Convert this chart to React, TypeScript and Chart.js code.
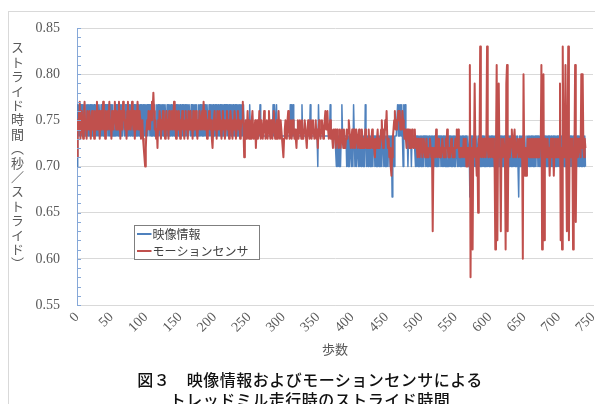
import React, { useEffect, useRef } from "react";
import { Chart, registerables } from "chart.js";

Chart.register(...registerables);

const seriesNames = ["映像情報", "モーションセンサ"];
const xTickValues = [0, 50, 100, 150, 200, 250, 300, 350, 400, 450, 500, 550, 600, 650, 700, 750];
const yTickValues = [0.55, 0.6, 0.65, 0.7, 0.75, 0.8, 0.85];
const yTitle = "ストライド時間（秒／ストライド）";
const xTitle = "歩数";
const captionLines = ["図３　映像情報およびモーションセンサによる", "トレッドミル走行時のストライド時間"];

// 映像情報 (steps 0-259)
const videoPart1 = [
  0.7,0.767,0.733,0.767,0.733,0.767,0.767,0.733,0.767,0.733,0.767,0.733,0.733,0.767,0.733,0.767,0.733,0.767,0.733,0.767,
  0.733,0.767,0.733,0.767,0.733,0.767,0.733,0.733,0.767,0.733,0.767,0.733,0.767,0.767,0.733,0.767,0.733,0.767,0.733,0.767,
  0.733,0.767,0.733,0.767,0.767,0.733,0.767,0.733,0.767,0.733,0.767,0.733,0.767,0.733,0.733,0.767,0.733,0.767,0.733,0.767,
  0.733,0.767,0.733,0.767,0.733,0.767,0.733,0.767,0.767,0.733,0.767,0.733,0.767,0.733,0.767,0.733,0.767,0.733,0.733,0.767,
  0.733,0.767,0.733,0.767,0.733,0.767,0.733,0.767,0.733,0.767,0.733,0.733,0.767,0.733,0.767,0.733,0.767,0.733,0.767,0.733,
  0.767,0.733,0.767,0.733,0.767,0.767,0.733,0.767,0.733,0.767,0.733,0.767,0.733,0.767,0.733,0.733,0.767,0.733,0.767,0.733,
  0.767,0.733,0.767,0.733,0.767,0.733,0.767,0.733,0.767,0.767,0.733,0.767,0.733,0.767,0.733,0.767,0.733,0.767,0.733,0.733,
  0.767,0.733,0.767,0.733,0.767,0.733,0.767,0.733,0.767,0.733,0.767,0.733,0.733,0.767,0.733,0.767,0.733,0.767,0.733,0.767,
  0.733,0.767,0.733,0.767,0.767,0.733,0.767,0.733,0.767,0.733,0.767,0.733,0.767,0.733,0.767,0.733,0.733,0.767,0.733,0.767,
  0.733,0.767,0.733,0.767,0.733,0.767,0.733,0.767,0.733,0.767,0.767,0.733,0.767,0.733,0.767,0.733,0.767,0.733,0.767,0.733,
  0.733,0.767,0.733,0.767,0.733,0.767,0.733,0.733,0.767,0.733,0.767,0.733,0.767,0.733,0.767,0.733,0.767,0.767,0.733,0.767,
  0.733,0.767,0.733,0.767,0.733,0.767,0.733,0.767,0.733,0.733,0.767,0.733,0.767,0.733,0.767,0.733,0.767,0.733,0.767,0.733,
  0.767,0.733,0.767,0.733,0.733,0.733,0.733,0.733,0.733,0.733,0.733,0.767,0.733,0.733,0.733,0.733,0.733,0.733,0.733,0.733,
];
// 映像情報 (steps 260-499)
const videoPart2 = [
  0.733,0.733,0.733,0.733,0.733,0.733,0.767,0.733,0.733,0.733,0.733,0.733,0.733,0.733,0.733,0.733,0.733,0.733,0.733,0.733,
  0.733,0.733,0.733,0.733,0.733,0.767,0.733,0.767,0.733,0.733,0.767,0.733,0.733,0.733,0.733,0.733,0.733,0.733,0.733,0.733,
  0.733,0.733,0.733,0.733,0.733,0.733,0.733,0.733,0.733,0.733,0.767,0.733,0.767,0.733,0.767,0.733,0.733,0.733,0.733,0.733,
  0.733,0.733,0.733,0.733,0.733,0.733,0.733,0.767,0.733,0.733,0.733,0.733,0.733,0.733,0.733,0.733,0.733,0.733,0.733,0.767,
  0.733,0.733,0.733,0.733,0.733,0.733,0.733,0.733,0.733,0.733,0.7,0.767,0.733,0.733,0.733,0.733,0.733,0.733,0.733,0.733,
  0.733,0.733,0.733,0.733,0.733,0.733,0.733,0.733,0.767,0.733,0.733,0.733,0.733,0.733,0.733,0.733,0.733,0.7,0.733,0.7,
  0.733,0.7,0.733,0.7,0.733,0.767,0.733,0.733,0.733,0.733,0.733,0.733,0.7,0.733,0.7,0.733,0.7,0.733,0.733,0.7,
  0.733,0.7,0.767,0.733,0.7,0.733,0.7,0.733,0.733,0.7,0.733,0.7,0.733,0.7,0.733,0.733,0.7,0.733,0.7,0.767,
  0.733,0.7,0.733,0.7,0.733,0.733,0.7,0.733,0.7,0.733,0.7,0.733,0.733,0.7,0.733,0.7,0.733,0.7,0.733,0.7,
  0.733,0.7,0.733,0.7,0.733,0.733,0.7,0.733,0.7,0.733,0.7,0.733,0.7,0.733,0.733,0.7,0.733,0.733,0.667,0.733,
  0.733,0.7,0.733,0.733,0.733,0.733,0.767,0.733,0.767,0.733,0.767,0.733,0.767,0.733,0.7,0.767,0.733,0.767,0.733,0.733,
  0.733,0.7,0.733,0.733,0.733,0.733,0.7,0.733,0.733,0.733,0.733,0.733,0.7,0.733,0.7,0.733,0.7,0.733,0.7,0.733,
];
// 映像情報 (steps 500-739)
const videoPart3 = [
  0.7,0.733,0.7,0.733,0.7,0.733,0.733,0.7,0.733,0.7,0.733,0.7,0.733,0.7,0.7,0.733,0.7,0.733,0.7,0.733,
  0.7,0.733,0.7,0.733,0.7,0.733,0.7,0.733,0.733,0.7,0.733,0.7,0.733,0.7,0.733,0.7,0.733,0.7,0.7,0.733,
  0.7,0.733,0.7,0.733,0.7,0.733,0.7,0.733,0.7,0.733,0.7,0.733,0.733,0.7,0.733,0.7,0.733,0.7,0.733,0.7,
  0.733,0.7,0.733,0.7,0.733,0.7,0.733,0.733,0.733,0.7,0.733,0.667,0.7,0.733,0.667,0.733,0.7,0.733,0.733,0.7,
  0.733,0.733,0.7,0.733,0.7,0.733,0.7,0.733,0.7,0.733,0.7,0.733,0.7,0.733,0.7,0.7,0.733,0.7,0.733,0.7,
  0.733,0.7,0.733,0.7,0.733,0.7,0.733,0.7,0.733,0.7,0.733,0.733,0.7,0.733,0.7,0.733,0.7,0.733,0.7,0.733,
  0.7,0.733,0.7,0.733,0.7,0.733,0.7,0.733,0.7,0.733,0.733,0.7,0.733,0.7,0.733,0.7,0.733,0.7,0.733,0.7,
  0.733,0.7,0.667,0.733,0.7,0.733,0.7,0.733,0.7,0.733,0.7,0.733,0.7,0.7,0.733,0.7,0.733,0.7,0.733,0.7,
  0.733,0.7,0.733,0.7,0.733,0.7,0.733,0.7,0.733,0.733,0.7,0.733,0.7,0.733,0.7,0.733,0.7,0.733,0.7,0.733,
  0.7,0.733,0.7,0.733,0.7,0.733,0.7,0.733,0.7,0.733,0.7,0.7,0.733,0.7,0.733,0.7,0.733,0.7,0.733,0.7,
  0.733,0.7,0.733,0.7,0.733,0.7,0.733,0.733,0.7,0.733,0.7,0.733,0.7,0.733,0.7,0.733,0.7,0.733,0.7,0.733,
  0.7,0.733,0.7,0.733,0.7,0.733,0.7,0.733,0.7,0.733,0.7,0.733,0.733,0.7,0.733,0.7,0.733,0.7,0.733,0.7,
];

// モーションセンサ (steps 0-259)
const sensorPart1 = [
  0.71,0.75,0.74,0.76,0.77,0.73,0.75,0.76,0.74,0.73,0.75,0.77,0.74,0.75,0.73,0.76,0.75,0.74,0.76,0.75,
  0.73,0.75,0.76,0.74,0.75,0.73,0.76,0.75,0.74,0.77,0.75,0.74,0.76,0.73,0.75,0.76,0.74,0.75,0.77,0.74,
  0.75,0.73,0.76,0.75,0.74,0.76,0.75,0.77,0.74,0.75,0.73,0.76,0.75,0.74,0.76,0.77,0.75,0.74,0.76,0.75,
  0.74,0.77,0.75,0.73,0.76,0.75,0.74,0.77,0.75,0.76,0.74,0.75,0.73,0.76,0.77,0.74,0.75,0.76,0.74,0.75,
  0.77,0.75,0.74,0.76,0.73,0.75,0.76,0.74,0.77,0.75,0.74,0.76,0.75,0.73,0.74,0.75,0.73,0.72,0.71,0.70,
  0.72,0.74,0.75,0.74,0.76,0.75,0.74,0.76,0.75,0.77,0.76,0.78,0.76,0.74,0.75,0.73,0.74,0.72,0.75,0.74,
  0.76,0.75,0.73,0.75,0.74,0.76,0.75,0.74,0.73,0.75,0.76,0.74,0.75,0.73,0.76,0.75,0.74,0.75,0.76,0.74,
  0.75,0.77,0.74,0.75,0.73,0.76,0.75,0.74,0.76,0.75,0.73,0.75,0.74,0.76,0.75,0.74,0.73,0.75,0.76,0.74,
  0.75,0.73,0.76,0.74,0.75,0.76,0.74,0.75,0.73,0.76,0.75,0.74,0.75,0.76,0.74,0.73,0.75,0.74,0.76,0.75,
  0.74,0.75,0.76,0.74,0.77,0.75,0.74,0.76,0.75,0.73,0.75,0.74,0.76,0.75,0.74,0.75,0.73,0.72,0.74,0.75,
  0.76,0.74,0.75,0.73,0.76,0.75,0.74,0.76,0.75,0.74,0.73,0.75,0.76,0.74,0.75,0.73,0.74,0.75,0.76,0.74,
  0.75,0.73,0.74,0.76,0.75,0.74,0.73,0.75,0.74,0.76,0.75,0.73,0.74,0.75,0.76,0.74,0.75,0.73,0.74,0.75,
  0.75,0.77,0.74,0.71,0.74,0.75,0.73,0.74,0.76,0.74,0.73,0.75,0.74,0.73,0.75,0.76,0.74,0.73,0.74,0.75,
];
// モーションセンサ (steps 260-499)
const sensorPart2 = [
  0.72,0.74,0.75,0.73,0.74,0.76,0.74,0.73,0.75,0.74,0.73,0.74,0.76,0.75,0.73,0.74,0.75,0.73,0.74,0.76,
  0.74,0.73,0.75,0.74,0.73,0.75,0.76,0.74,0.73,0.74,0.75,0.73,0.74,0.76,0.74,0.73,0.75,0.74,0.73,0.72,
  0.71,0.73,0.74,0.75,0.74,0.73,0.75,0.76,0.74,0.73,0.74,0.75,0.73,0.74,0.75,0.74,0.73,0.74,0.73,0.72,
  0.74,0.75,0.73,0.74,0.75,0.74,0.73,0.75,0.74,0.73,0.74,0.75,0.74,0.73,0.72,0.74,0.75,0.74,0.73,0.74,
  0.75,0.73,0.74,0.75,0.74,0.73,0.74,0.75,0.73,0.74,0.72,0.74,0.75,0.74,0.73,0.74,0.75,0.74,0.73,0.74,
  0.75,0.76,0.74,0.75,0.76,0.74,0.73,0.74,0.75,0.73,0.74,0.73,0.72,0.74,0.73,0.74,0.72,0.73,0.74,0.73,
  0.72,0.73,0.74,0.72,0.73,0.74,0.73,0.72,0.74,0.73,0.72,0.73,0.74,0.73,0.74,0.75,0.74,0.73,0.72,0.73,
  0.74,0.72,0.73,0.74,0.72,0.73,0.74,0.73,0.72,0.73,0.74,0.72,0.73,0.72,0.74,0.73,0.72,0.73,0.72,0.74,
  0.73,0.72,0.73,0.72,0.74,0.72,0.73,0.72,0.73,0.74,0.72,0.73,0.72,0.71,0.73,0.72,0.73,0.74,0.72,0.73,
  0.72,0.73,0.74,0.75,0.73,0.72,0.74,0.73,0.75,0.74,0.76,0.73,0.72,0.73,0.71,0.72,0.70,0.69,0.71,0.73,
  0.74,0.75,0.76,0.74,0.75,0.74,0.75,0.76,0.75,0.76,0.74,0.75,0.74,0.76,0.75,0.74,0.73,0.74,0.73,0.72,
  0.74,0.73,0.74,0.72,0.74,0.73,0.72,0.74,0.73,0.72,0.73,0.74,0.72,0.73,0.72,0.71,0.73,0.72,0.71,0.72,
];
// モーションセンサ (steps 500-739)
const sensorPart3 = [
  0.73,0.72,0.71,0.72,0.73,0.72,0.71,0.72,0.73,0.71,0.72,0.71,0.72,0.73,0.72,0.71,0.72,0.63,0.71,0.72,
  0.72,0.71,0.74,0.72,0.71,0.72,0.73,0.71,0.72,0.71,0.72,0.73,0.72,0.71,0.72,0.71,0.73,0.72,0.74,0.72,
  0.71,0.72,0.71,0.72,0.73,0.72,0.71,0.72,0.71,0.72,0.73,0.72,0.74,0.73,0.74,0.72,0.71,0.72,0.71,0.72,
  0.72,0.71,0.73,0.72,0.71,0.73,0.70,0.72,0.70,0.72,0.71,0.81,0.58,0.72,0.70,0.61,0.73,0.71,0.79,0.72,
  0.71,0.69,0.72,0.65,0.73,0.71,0.83,0.72,0.71,0.73,0.72,0.71,0.73,0.72,0.71,0.73,0.83,0.72,0.71,0.73,
  0.72,0.71,0.73,0.72,0.71,0.73,0.72,0.70,0.61,0.72,0.81,0.62,0.73,0.79,0.71,0.72,0.63,0.73,0.72,0.71,
  0.73,0.72,0.71,0.61,0.79,0.81,0.63,0.72,0.73,0.71,0.72,0.73,0.74,0.72,0.71,0.73,0.74,0.72,0.71,0.72,
  0.73,0.72,0.71,0.73,0.72,0.71,0.73,0.72,0.60,0.80,0.71,0.69,0.72,0.69,0.71,0.73,0.72,0.71,0.73,0.72,
  0.71,0.73,0.72,0.71,0.73,0.72,0.71,0.73,0.72,0.71,0.73,0.72,0.71,0.73,0.72,0.81,0.61,0.72,0.80,0.62,
  0.72,0.73,0.71,0.72,0.73,0.71,0.72,0.69,0.72,0.73,0.71,0.72,0.73,0.69,0.72,0.71,0.73,0.72,0.71,0.73,
  0.72,0.71,0.79,0.62,0.72,0.61,0.83,0.72,0.71,0.73,0.81,0.72,0.63,0.72,0.83,0.62,0.72,0.73,0.71,0.72,
  0.73,0.61,0.72,0.71,0.81,0.64,0.72,0.73,0.71,0.72,0.73,0.72,0.71,0.80,0.72,0.80,0.72,0.71,0.73,0.72,
];

const BLUE = "#4f81bd";
const RED = "#c0504d";
const AXIS_BLUE = "#86a8d8";
const GRID = "#d9d9d9";
const TEXT_GRAY = "#595959";
const JP_FONT = "'Noto Sans CJK JP', 'Noto Sans', sans-serif";
const NUM_FONT = "'Liberation Serif', serif";

const videoValues = [...videoPart1, ...videoPart2, ...videoPart3];
const sensorValues = [...sensorPart1, ...sensorPart2, ...sensorPart3];

const decorPlugin = {
  id: "decor",
  afterDraw(chart: any) {
    const { ctx, chartArea, scales } = chart;
    const y = scales.y;
    ctx.save();
    // minor ticks every 0.01
    ctx.strokeStyle = AXIS_BLUE;
    ctx.lineWidth = 1;
    for (let k = 55; k <= 85; k++) {
      const py = Math.round(y.getPixelForValue(k / 100)) + 0.5;
      ctx.beginPath();
      ctx.moveTo(chartArea.left, py);
      ctx.lineTo(chartArea.left + 4, py);
      ctx.stroke();
    }
    // legend box
    const bx = 126.5, by = 214.5, bw = 125, bh = 34;
    ctx.fillStyle = "#ffffff";
    ctx.fillRect(bx, by, bw, bh);
    ctx.strokeStyle = "#7f7f7f";
    ctx.lineWidth = 1;
    ctx.strokeRect(bx, by, bw, bh);
    const entries = [
      { name: seriesNames[0], color: BLUE, y: 223 },
      { name: seriesNames[1], color: RED, y: 240 },
    ];
    ctx.font = `12px ${JP_FONT}`;
    ctx.textBaseline = "middle";
    ctx.textAlign = "left";
    for (const e of entries) {
      ctx.strokeStyle = e.color;
      ctx.lineWidth = 2;
      ctx.beginPath();
      ctx.moveTo(bx + 2.5, e.y);
      ctx.lineTo(bx + 17, e.y);
      ctx.stroke();
      ctx.fillStyle = "#404040";
      ctx.fillText(e.name, bx + 18, e.y + 0.5);
    }
    ctx.restore();
  },
};

export default function App() {
  const canvasRef = useRef<HTMLCanvasElement | null>(null);

  useEffect(() => {
    if (!canvasRef.current) return;
    const chart = new Chart(canvasRef.current, {
      type: "line",
      data: {
        datasets: [
          {
            label: seriesNames[1],
            data: sensorValues.map((v, i) => ({ x: i, y: v })),
            borderColor: RED,
            backgroundColor: RED,
            borderWidth: 2,
            pointRadius: 0,
            tension: 0,
            borderJoinStyle: "round",
            order: 1,
          },
          {
            label: seriesNames[0],
            data: videoValues.map((v, i) => ({ x: i, y: v })),
            borderColor: BLUE,
            backgroundColor: BLUE,
            borderWidth: 1.5,
            pointRadius: 0,
            tension: 0,
            borderJoinStyle: "round",
            order: 2,
          },
        ],
      },
      options: {
        animation: false,
        responsive: false,
        events: [],
        layout: { padding: { top: 17, right: 10, left: 0, bottom: 0 } },
        plugins: { legend: { display: false }, tooltip: { enabled: false }, title: { display: false } },
        scales: {
          x: {
            type: "linear",
            min: xTickValues[0],
            max: xTickValues[xTickValues.length - 1],
            afterBuildTicks: (s: any) => {
              s.ticks = xTickValues.map((v) => ({ value: v }));
            },
            afterFit: (s: any) => {
              s.height = 36;
              s.paddingLeft = 0;
              s.paddingRight = 0;
            },
            grid: { display: false, drawTicks: false },
            border: { display: true, color: GRID, width: 1 },
            ticks: {
              autoSkip: false,
              minRotation: 45,
              maxRotation: 45,
              padding: 4,
              color: TEXT_GRAY,
              font: { family: NUM_FONT, size: 14 },
              callback: (v: any) => String(v),
            },
          },
          y: {
            type: "linear",
            min: yTickValues[0],
            max: yTickValues[yTickValues.length - 1],
            afterBuildTicks: (s: any) => {
              s.ticks = yTickValues.map((v) => ({ value: v }));
            },
            afterFit: (s: any) => {
              s.width = 69;
              s.paddingTop = 0;
              s.paddingBottom = 0;
            },
            grid: { color: GRID, lineWidth: 1, drawTicks: false },
            border: { display: true, color: AXIS_BLUE, width: 1 },
            ticks: {
              padding: 17,
              color: TEXT_GRAY,
              font: { family: NUM_FONT, size: 14 },
              callback: (v: any) => Number(v).toFixed(2),
            },
          },
        },
      },
      plugins: [decorPlugin],
    } as any);
    return () => chart.destroy();
  }, []);

  return (
    <div style={{ position: "relative", width: 595, height: 396, overflow: "hidden" }}>
      <div
        style={{
          position: "absolute",
          left: 0,
          top: 3,
          width: 595,
          height: 393,
          boxSizing: "border-box",
          borderTop: `1px solid ${GRID}`,
          borderLeft: `1px solid ${GRID}`,
        }}
      />
      <canvas
        ref={canvasRef}
        width={595}
        height={330}
        style={{ position: "absolute", left: 0, top: 3, width: 595, height: 330 }}
      />
      <div
        style={{
          position: "absolute",
          left: 3,
          top: 33,
          writingMode: "vertical-rl",
          textOrientation: "upright",
          fontFamily: JP_FONT,
          fontSize: 13,
          lineHeight: "13px",
          letterSpacing: "1.4px",
          color: TEXT_GRAY,
          whiteSpace: "nowrap",
        }}
      >
        {yTitle}
      </div>
      <div
        style={{
          position: "absolute",
          left: 277,
          top: 334,
          width: 100,
          textAlign: "center",
          fontFamily: JP_FONT,
          fontSize: 13,
          lineHeight: "14px",
          color: TEXT_GRAY,
        }}
      >
        {xTitle}
      </div>
      <div
        style={{
          position: "absolute",
          left: 102,
          top: 361,
          width: 400,
          textAlign: "center",
          fontFamily: JP_FONT,
          fontSize: 16,
          fontWeight: 500,
          lineHeight: "20px",
          letterSpacing: "0.5px",
          color: "#111111",
          whiteSpace: "nowrap",
        }}
      >
        {captionLines.map((l, i) => (
          <div key={i}>{l}</div>
        ))}
      </div>
    </div>
  );
}
